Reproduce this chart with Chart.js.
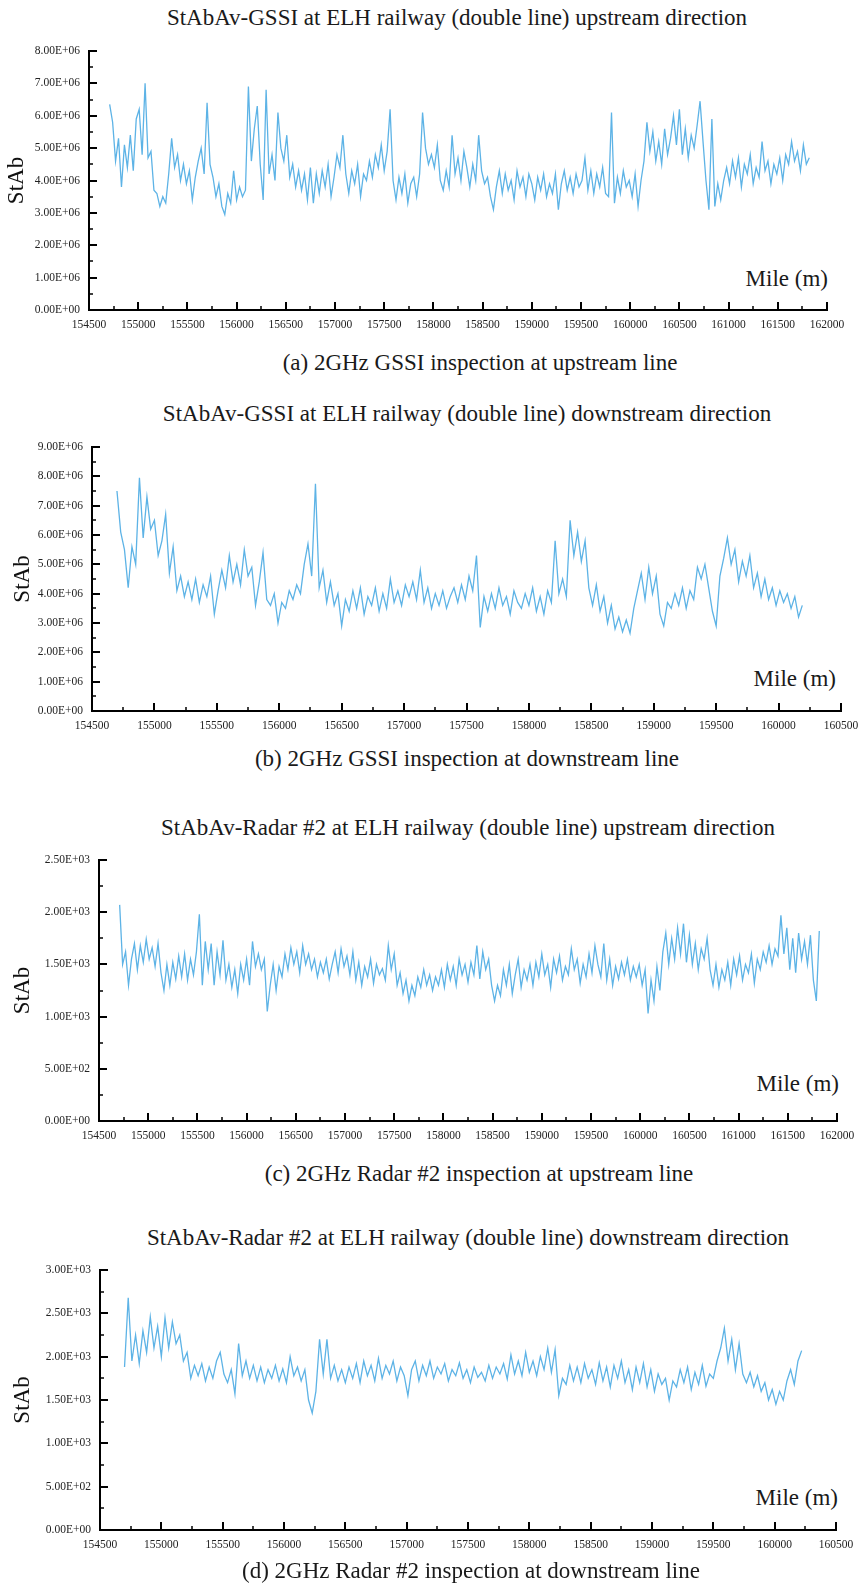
<!DOCTYPE html>
<html>
<head>
<meta charset="utf-8">
<script src="https://cdn.jsdelivr.net/npm/chart.js@4.4.1/dist/chart.umd.min.js"></script>
<style>
  body { margin: 0; background: #fff; width: 858px; height: 1584px; position: relative; overflow: hidden;
         font-family: "Liberation Serif", "Times New Roman", serif; color: #1a1a1a; }
  canvas { position: absolute; left: 0; }
  .t { position: absolute; white-space: nowrap; line-height: 1; font-size: 23px; }
  .c { transform: translate(-50%, -50%); }
  .r { transform: translate(-100%, -50%); }
</style>
</head>
<body>

<div class="t c" style="left:457px;top:17px">StAbAv-GSSI at ELH railway (double line) upstream direction</div>
<div class="t r" style="left:828px;top:278px">Mile (m)</div>
<canvas id="chartA"></canvas>
<div class="t c" style="left:480px;top:362px">(a) 2GHz GSSI inspection at upstream line</div>

<div class="t c" style="left:467px;top:413px">StAbAv-GSSI at ELH railway (double line) downstream direction</div>
<div class="t r" style="left:836px;top:678px">Mile (m)</div>
<canvas id="chartB"></canvas>
<div class="t c" style="left:467px;top:758px">(b) 2GHz GSSI inspection at downstream line</div>

<div class="t c" style="left:468px;top:827px">StAbAv-Radar #2 at ELH railway (double line) upstream direction</div>
<div class="t r" style="left:839px;top:1083px">Mile (m)</div>
<canvas id="chartC"></canvas>
<div class="t c" style="left:479px;top:1173px">(c) 2GHz Radar #2 inspection at upstream line</div>

<div class="t c" style="left:468px;top:1237px">StAbAv-Radar #2 at ELH railway (double line) downstream direction</div>
<div class="t r" style="left:838px;top:1497px">Mile (m)</div>
<canvas id="chartD"></canvas>
<div class="t c" style="left:471px;top:1570px">(d) 2GHz Radar #2 inspection at downstream line</div>

<script>
// sample spacing along the line (m)
const STEP = 30;

// (a) GSSI upstream, x1E+06, from mile 154710
const gssiUpStart = 154710;
const gssiUp = [
  6.35, 5.8, 4.6, 5.3, 3.8, 5.1, 4.4, 5.4, 4.3, 5.9,
  6.2, 4.8, 7.0, 4.7, 4.9, 3.7, 3.6, 3.2, 3.5, 3.3,
  4.2, 5.3, 4.4, 4.8, 4.0, 4.5, 3.9, 4.3, 3.4, 4.1,
  4.6, 5.0, 4.2, 6.4, 4.5, 4.1, 3.5, 3.9, 3.2, 2.95,
  3.6, 3.3, 4.3, 3.4, 3.8, 3.5, 3.7, 6.9, 4.6, 5.6,
  6.3, 4.5, 3.4, 6.8, 4.2, 4.8, 4.0, 6.1, 5.0, 4.6,
  5.4, 4.1, 4.5, 3.8, 4.3, 3.7, 4.2, 3.4, 4.4, 3.3,
  4.2, 3.6, 4.3, 3.8, 4.5, 3.5, 4.1, 4.8, 4.4, 5.4,
  4.2, 3.6, 4.3, 3.9, 4.5, 3.5, 4.2, 4.0, 4.6, 4.1,
  4.8, 4.4, 5.1, 4.3, 4.9, 6.2, 4.0, 3.4, 4.1, 3.6,
  4.2, 3.3, 3.9, 4.1, 3.5, 4.2, 6.1, 5.0, 4.5, 4.8,
  4.4, 5.1, 4.0, 3.7, 4.3, 3.8, 5.4, 4.2, 4.7, 4.0,
  4.9, 4.4, 3.8, 4.5, 4.0, 5.4, 4.3, 3.9, 4.1, 3.5,
  3.1, 3.8, 4.3, 3.6, 4.2, 3.7, 4.0, 3.4, 4.3, 3.8,
  4.1, 3.5, 4.2, 3.9, 3.4, 4.1, 3.7, 4.2, 3.5, 3.9,
  3.6, 4.2, 3.1, 3.9, 4.3, 3.7, 4.1, 3.6, 4.2, 3.8,
  4.0, 4.7, 3.7, 4.3, 3.6, 4.2, 3.8, 4.4, 3.6, 3.5,
  6.1, 3.3, 4.1, 3.6, 4.3, 3.8, 4.0, 3.5, 4.2, 3.2,
  4.0, 4.6, 5.8, 4.9, 5.5, 4.6, 5.2, 4.5, 5.6, 4.8,
  5.3, 6.0, 5.1, 6.2, 4.8, 5.6, 4.7, 5.4, 5.0, 5.7,
  6.45, 5.2, 4.0, 3.1, 5.9, 3.2, 3.9, 3.4, 4.0, 4.4,
  3.9, 4.6, 4.1, 4.7, 3.8, 4.5, 4.2, 4.8, 3.9, 4.4,
  4.1, 5.2, 4.3, 4.6, 3.9, 4.5, 4.2, 4.7, 4.0, 4.8,
  4.5, 5.2, 4.6, 4.9, 4.3, 5.1, 4.5, 4.7
];

// (b) GSSI downstream, x1E+06, from mile 154700
const gssiDownStart = 154700;
const gssiDown = [
  7.5, 6.1, 5.5, 4.2, 5.6, 5.0, 7.95, 5.9, 7.3, 6.2,
  6.5, 5.3, 5.8, 6.7, 4.7, 5.6, 4.1, 4.6, 3.9, 4.4,
  3.8, 4.5, 3.7, 4.3, 3.9, 4.6, 3.3, 4.1, 4.8, 4.2,
  5.3, 4.4, 5.0, 4.3, 5.5, 4.6, 4.9, 3.6, 4.4, 5.4,
  3.8, 3.6, 4.0, 3.0, 3.7, 3.5, 4.1, 3.8, 4.3, 4.0,
  5.0, 5.7, 4.6, 7.75, 4.2, 4.8, 3.7, 4.4, 3.6, 4.0,
  2.9, 3.8, 3.4, 4.1, 3.5, 4.2, 3.3, 3.9, 3.6, 4.2,
  3.4, 4.0, 3.5, 4.5, 3.7, 4.1, 3.6, 4.3, 3.9, 4.4,
  3.8, 4.8, 3.7, 4.2, 3.5, 4.0, 3.6, 4.1, 3.5, 3.9,
  4.2, 3.7, 4.3, 3.8, 4.6, 4.1, 5.3, 2.85, 3.9, 3.4,
  4.0, 3.5, 4.2, 3.6, 3.9, 3.3, 4.1, 3.7, 3.5, 4.0,
  3.6, 4.2, 3.4, 3.9, 3.3, 4.1, 3.7, 5.8, 4.0, 4.5,
  3.9, 6.5, 5.3, 6.1, 5.1, 5.8, 4.2, 3.6, 4.3, 3.4,
  3.9, 3.0, 3.6, 2.8, 3.2, 2.7, 3.1, 2.65, 3.5, 4.1,
  4.7, 3.8, 4.9, 4.0, 4.6, 3.3, 2.9, 3.7, 3.5, 4.0,
  3.6, 4.2, 3.5, 4.1, 3.8, 4.9, 4.5, 5.0, 4.2, 3.4,
  2.9, 4.6, 5.2, 5.9, 5.0, 5.5, 4.4, 5.1, 4.6, 5.3,
  4.2, 4.7, 3.9, 4.5, 3.8, 4.2, 3.6, 4.1, 3.7, 4.0,
  3.5, 3.9, 3.2, 3.6
];

// (c) Radar #2 upstream, x1E+03, from mile 154710
const radarUpStart = 154710;
const radarUp = [
  2.07, 1.5, 1.62, 1.3, 1.55, 1.7, 1.45, 1.68, 1.52, 1.74,
  1.55, 1.66, 1.48, 1.7, 1.42, 1.25, 1.5, 1.3, 1.52, 1.36,
  1.58, 1.38, 1.6, 1.35, 1.55, 1.4, 1.62, 1.98, 1.3, 1.72,
  1.45, 1.7, 1.3, 1.62, 1.4, 1.73, 1.35, 1.5, 1.28, 1.45,
  1.22, 1.5, 1.35, 1.55, 1.3, 1.72, 1.48, 1.6, 1.45, 1.55,
  1.05, 1.3, 1.5, 1.25, 1.48, 1.38, 1.6, 1.45, 1.66, 1.5,
  1.62, 1.42, 1.68, 1.5, 1.6, 1.45, 1.55, 1.38, 1.52, 1.42,
  1.55, 1.36, 1.5, 1.62, 1.42, 1.65, 1.48, 1.58, 1.4, 1.62,
  1.35, 1.52, 1.3, 1.48, 1.38, 1.55, 1.32, 1.5, 1.4, 1.46,
  1.35, 1.68, 1.45, 1.6, 1.3, 1.42, 1.22, 1.35, 1.15, 1.3,
  1.2, 1.38, 1.28, 1.45, 1.3, 1.4, 1.25, 1.38, 1.3, 1.45,
  1.28, 1.5, 1.35, 1.48, 1.3, 1.55, 1.4, 1.5, 1.33, 1.52,
  1.4, 1.68, 1.36, 1.62, 1.45, 1.55, 1.3, 1.15, 1.3, 1.2,
  1.45, 1.3, 1.5, 1.22, 1.4, 1.55, 1.28, 1.45, 1.35, 1.5,
  1.3, 1.52, 1.38, 1.6, 1.4, 1.5, 1.28, 1.55, 1.42, 1.58,
  1.35, 1.48, 1.4, 1.65, 1.45, 1.55, 1.32, 1.5, 1.38, 1.6,
  1.42, 1.68, 1.5, 1.38, 1.7, 1.35, 1.55, 1.3, 1.48, 1.36,
  1.52, 1.4, 1.55, 1.35, 1.48, 1.38, 1.5, 1.3, 1.45, 1.03,
  1.35, 1.15, 1.48, 1.25, 1.62, 1.8, 1.5, 1.75, 1.55, 1.85,
  1.6, 1.89, 1.52, 1.78, 1.5, 1.7, 1.45, 1.65, 1.55, 1.75,
  1.45, 1.3, 1.5, 1.28, 1.45, 1.35, 1.52, 1.3, 1.55, 1.4,
  1.58, 1.35, 1.5, 1.42, 1.6, 1.32, 1.55, 1.45, 1.62, 1.52,
  1.68, 1.5, 1.65, 1.58, 1.97, 1.6, 1.85, 1.45, 1.75, 1.42,
  1.8, 1.55, 1.72, 1.5, 1.78, 1.35, 1.15, 1.82
];

// (d) Radar #2 downstream, x1E+03, from mile 154700
const radarDownStart = 154700;
const radarDown = [
  1.88, 2.68, 1.95, 2.25, 1.92, 2.3, 2.05, 2.46, 2.1, 2.35,
  2.0, 2.45, 2.1, 2.4, 2.15, 2.25, 1.95, 2.05, 1.75, 1.9,
  1.78, 1.92, 1.72, 1.88, 1.75, 1.95, 2.05, 1.8, 1.7, 1.85,
  1.57, 2.15, 1.78, 1.95, 1.75, 1.9, 1.72, 1.88, 1.7, 1.85,
  1.75, 1.9, 1.72, 1.86, 1.7, 2.0, 1.78, 1.88, 1.72, 1.85,
  1.5, 1.35, 1.6, 2.2, 1.8, 2.2, 1.75, 1.9, 1.72, 1.85,
  1.7, 1.88, 1.75, 1.92, 1.7, 1.95, 1.78, 1.9, 1.72, 1.98,
  1.75, 1.9, 1.8, 1.95, 1.72, 1.88, 1.78, 1.55, 1.85, 1.95,
  1.72, 1.9, 1.78, 1.95, 1.75, 1.88, 1.8, 1.92, 1.72, 1.85,
  1.78, 1.93, 1.75, 1.85, 1.7, 1.88, 1.76, 1.82, 1.72, 1.9,
  1.75, 1.88, 1.8, 1.92, 1.74, 2.02, 1.8, 1.95, 1.78, 2.05,
  1.82, 1.95, 1.78, 2.0, 1.85, 2.1, 1.82, 2.08, 1.55, 1.75,
  1.68, 1.9, 1.72, 1.88, 1.7, 1.92, 1.75, 1.85, 1.68, 1.93,
  1.72, 1.88, 1.65, 1.9, 1.75, 1.95, 1.7, 1.85, 1.62, 1.88,
  1.7, 1.92, 1.65, 1.85, 1.6, 1.8, 1.68, 1.75, 1.5, 1.72,
  1.65, 1.85, 1.7, 1.88, 1.62, 1.82, 1.68, 1.9, 1.66, 1.8,
  1.75, 1.95, 2.1, 2.33, 1.95, 2.2, 1.85, 2.15, 1.8, 1.7,
  1.82, 1.65, 1.78, 1.6, 1.7, 1.5, 1.62, 1.45, 1.6, 1.5,
  1.72, 1.85, 1.68, 1.95, 2.07
];

// axis ranges / ticks
const xMin = 154500;
const xStep = 500;
const xMaxUp = 162000;
const xMaxDown = 160500;
const yMaxGssiUp = 8, yMaxGssiDown = 9, yStepGssi = 1;
const yMaxRadarUp = 2.5, yMaxRadarDown = 3, yStepRadar = 0.5;

Chart.defaults.font.family = '"Liberation Serif", "Times New Roman", serif';

// "8.00E+06" style labels
function sciLabel(v, unit) {
  const n = Math.round(v * unit);
  if (n === 0) return '0.00E+00';
  const e = Math.floor(Math.log10(n));
  return (n / Math.pow(10, e)).toFixed(2) + 'E+' + String(e).padStart(2, '0');
}

// ticks pointing into the plot, with a minor tick between majors
const innerTicks = {
  id: 'innerTicks',
  afterDraw(chart) {
    const { ctx, chartArea: ca, scales } = chart;
    ctx.save();
    ctx.strokeStyle = '#000';
    [scales.x, scales.y].forEach(s => {
      const vals = s.ticks.map(t => t.value);
      vals.forEach((v, i) => {
        const marks = [[v, 8]];
        if (i < vals.length - 1) marks.push([(v + vals[i + 1]) / 2, 4]);
        marks.forEach(([mv, len]) => {
          const p = Math.round(s.getPixelForValue(mv));
          ctx.lineWidth = len > 4 ? 2 : 1.5;
          ctx.beginPath();
          if (s.isHorizontal()) { ctx.moveTo(p, ca.bottom); ctx.lineTo(p, ca.bottom - len); }
          else { ctx.moveTo(ca.left, p); ctx.lineTo(ca.left + len, p); }
          ctx.stroke();
        });
      });
    });
    ctx.restore();
  }
};

const panels = [
  { id: 'chartA', vals: gssiUp, start: gssiUpStart, unit: 1e6, yMax: yMaxGssiUp, yStep: yStepGssi, xMax: xMaxUp,
    box: { left: 89, right: 827, top: 51, bottom: 310 }, titlePad: 3 },
  { id: 'chartB', vals: gssiDown, start: gssiDownStart, unit: 1e6, yMax: yMaxGssiDown, yStep: yStepGssi, xMax: xMaxDown,
    box: { left: 92, right: 841, top: 447, bottom: 711 }, titlePad: 9 },
  { id: 'chartC', vals: radarUp, start: radarUpStart, unit: 1e3, yMax: yMaxRadarUp, yStep: yStepRadar, xMax: xMaxUp,
    box: { left: 99, right: 837, top: 860, bottom: 1121 }, titlePad: 9 },
  { id: 'chartD', vals: radarDown, start: radarDownStart, unit: 1e3, yMax: yMaxRadarDown, yStep: yStepRadar, xMax: xMaxDown,
    box: { left: 100, right: 836, top: 1270, bottom: 1530 }, titlePad: 9 }
];

const padTop = 12;
const xAxisH = 30;

panels.forEach(p => {
  const cv = document.getElementById(p.id);
  cv.width = 858;
  cv.height = p.box.bottom - p.box.top + padTop + xAxisH;
  cv.style.top = (p.box.top - padTop) + 'px';

  new Chart(cv, {
    type: 'line',
    data: {
      datasets: [{
        data: p.vals.map((v, i) => ({ x: p.start + i * STEP, y: v })),
        borderColor: '#5DB3E6',
        borderWidth: 1.3,
        pointRadius: 0,
        tension: 0
      }]
    },
    options: {
      responsive: false,
      animation: false,
      layout: { padding: { top: padTop, right: 858 - p.box.right, left: 0, bottom: 0 } },
      plugins: { legend: { display: false }, tooltip: { enabled: false } },
      scales: {
        x: {
          type: 'linear', min: xMin, max: p.xMax,
          afterFit: s => { s.height = xAxisH; s.paddingLeft = 0; s.paddingRight = 0; },
          ticks: { stepSize: xStep, autoSkip: false, maxRotation: 0, padding: 8, color: '#222',
                   font: { size: 11.5 }, callback: v => String(v) },
          grid: { display: false, drawTicks: false },
          border: { color: '#000', width: 2 }
        },
        y: {
          min: 0, max: p.yMax,
          afterFit: s => { s.width = p.box.left; s.paddingTop = 0; s.paddingBottom = 0; },
          ticks: { stepSize: p.yStep, padding: 9, color: '#222', font: { size: 11.5 },
                   callback: v => sciLabel(v, p.unit) },
          grid: { display: false, drawTicks: false },
          border: { color: '#000', width: 2 },
          title: { display: true, text: 'StAb', color: '#111', font: { size: 23 },
                   padding: { top: p.titlePad, bottom: 0 } }
        }
      }
    },
    plugins: [innerTicks]
  });
});
</script>
</body>
</html>
